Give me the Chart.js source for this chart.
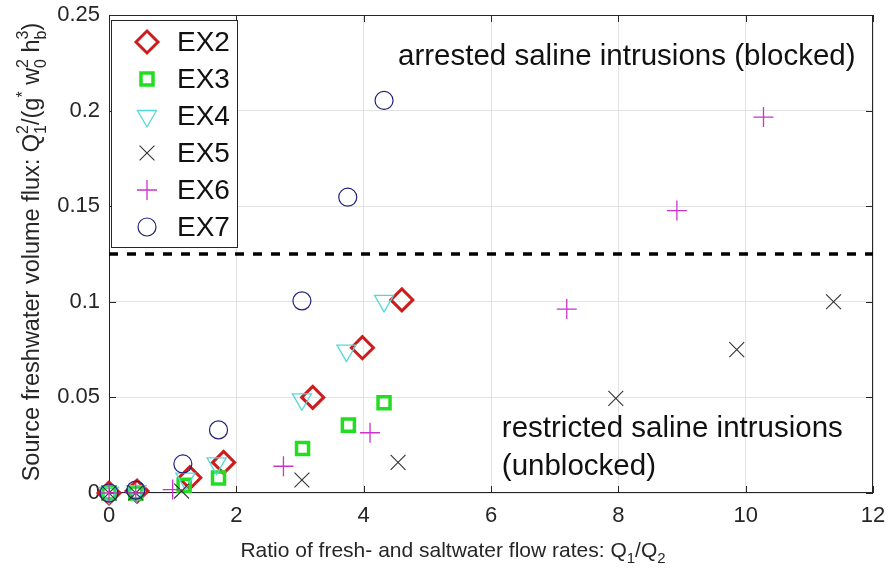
<!DOCTYPE html>
<html>
<head>
<meta charset="utf-8">
<script src="https://cdn.jsdelivr.net/npm/chart.js@4/dist/chart.umd.min.js"></script>
<style>
  html, body { margin: 0; padding: 0; background: #fff; }
  #wrap { width: 890px; height: 572px; }
</style>
</head>
<body>
<div id="wrap"><canvas id="chart" width="890" height="572"></canvas></div>
<script>
// values (x = Q1/Q2, y = Q1^2/(g* w0^2 hb^3))
const seriesNames = ["EX2", "EX3", "EX4", "EX5", "EX6", "EX7"];

const ex2X = [0, 0.44, 1.27, 1.80, 3.20, 3.98, 4.60];
const ex2Y = [0, 0.001, 0.008, 0.016, 0.050, 0.076, 0.101];

const ex3X = [0, 0.42, 1.18, 1.72, 3.04, 3.76, 4.32];
const ex3Y = [0, 0, 0.004, 0.0078, 0.0233, 0.0355, 0.0472];

const ex4X = [0, 0.43, 1.20, 1.69, 3.03, 3.73, 4.32];
const ex4Y = [0, 0.001, 0.0075, 0.0155, 0.049, 0.0745, 0.1005];

const ex5X = [0, 0.42, 1.14, 3.03, 4.54, 7.96, 9.86, 11.38];
const ex5Y = [0, 0, 0.001, 0.0068, 0.016, 0.0495, 0.075, 0.100];

const ex6X = [0, 0.42, 1.00, 2.74, 4.10, 7.19, 8.92, 10.28];
const ex6Y = [0, 0, 0.0018, 0.014, 0.0315, 0.0962, 0.1477, 0.1966];

const ex7X = [0, 0.42, 1.16, 1.72, 3.03, 3.75, 4.32];
const ex7Y = [0, 0.0015, 0.0152, 0.033, 0.1005, 0.1547, 0.2053];

const thresholdY = 0.125;
const thresholdX = [0, 12];

const xTicks = [0, 2, 4, 6, 8, 10, 12];
const yTicks = [0, 0.05, 0.1, 0.15, 0.2, 0.25];

const upperNote = "arrested saline intrusions (blocked)";
const lowerNote = ["restricted saline intrusions", "(unblocked)"];

const FONT = "'Liberation Sans', Arial, Helvetica, sans-serif";
const INK = "#262626";

function pts(xs, ys) {
    return xs.map((x, i) => ({ x: x, y: ys[i] }));
}

const markers = [
    { style: "rectRot",  radius: 11,   rot: 0,   color: "#cc1c1c", width: 3 },
    { style: "rect",     radius: 8.5,  rot: 0,   color: "#22dd22", width: 3.5 },
    { style: "triangle", radius: 11,   rot: 180, color: "#55d8d8", width: 1.3 },
    { style: "crossRot", radius: 10.5, rot: 0,   color: "#333333", width: 1.1 },
    { style: "cross",    radius: 10,   rot: 0,   color: "#cc33cc", width: 1.3 },
    { style: "circle",   radius: 9,    rot: 0,   color: "#22227a", width: 1.2 }
];

const seriesData = [
    pts(ex2X, ex2Y), pts(ex3X, ex3Y), pts(ex4X, ex4Y),
    pts(ex5X, ex5Y), pts(ex6X, ex6Y), pts(ex7X, ex7Y)
];

const datasets = seriesNames.map((name, i) => ({
    type: "scatter",
    label: name,
    data: seriesData[i],
    pointStyle: markers[i].style,
    pointRadius: markers[i].radius,
    pointHoverRadius: markers[i].radius,
    pointRotation: markers[i].rot,
    pointBorderColor: markers[i].color,
    pointBackgroundColor: "rgba(0,0,0,0)",
    pointBorderWidth: markers[i].width,
    showLine: false,
    clip: false,
    order: 10 - i
}));

datasets.push({
    type: "line",
    label: "threshold",
    data: thresholdX.map(x => ({ x: x, y: thresholdY })),
    borderColor: "#000",
    borderWidth: 3.5,
    borderDash: [9, 9],
    pointRadius: 0,
    fill: false,
    order: 20
});

// text with sub/superscripts, laid out along the current baseline
function richWidth(ctx, parts, size) {
    let w = 0;
    parts.forEach(p => {
        if (p.t) {
            ctx.font = size + "px " + FONT;
            w += ctx.measureText(p.t).width;
        } else {
            ctx.font = Math.round(size * 0.7) + "px " + FONT;
            w += Math.max(ctx.measureText(p.sub || "").width, ctx.measureText(p.sup || "").width);
        }
    });
    return w;
}

function drawRich(ctx, parts, size, x, y) {
    let cx = x;
    parts.forEach(p => {
        if (p.t) {
            ctx.font = size + "px " + FONT;
            ctx.fillText(p.t, cx, y);
            cx += ctx.measureText(p.t).width;
        } else {
            ctx.font = Math.round(size * 0.7) + "px " + FONT;
            let w = 0;
            if (p.sub) {
                ctx.fillText(p.sub, cx, y + size * 0.3);
                w = ctx.measureText(p.sub).width;
            }
            if (p.sup) {
                ctx.fillText(p.sup, cx, y - size * 0.45);
                w = Math.max(w, ctx.measureText(p.sup).width);
            }
            cx += w;
        }
    });
}

const xTitle = [{ t: "Ratio of fresh- and saltwater flow rates: Q" }, { sub: "1" }, { t: "/Q" }, { sub: "2" }];
const yTitle = [
    { t: "Source freshwater volume flux: Q" }, { sub: "1", sup: "2" },
    { t: "/(g" }, { sup: "*" }, { t: " w" }, { sub: "0", sup: "2" },
    { t: " h" }, { sub: "b", sup: "3" }, { t: ")" }
];

const decorPlugin = {
    id: "decor",
    beforeDatasetsDraw(chart) {
        const ctx = chart.ctx;
        const a = chart.chartArea;
        const xs = chart.scales.x, ys = chart.scales.y;
        ctx.save();
        ctx.strokeStyle = INK;
        ctx.lineWidth = 1;
        ctx.strokeRect(a.left + 0.5, a.top + 0.5, a.right - a.left - 1, a.bottom - a.top - 1);
        ctx.beginPath();
        xTicks.forEach(v => {
            const px = Math.round(xs.getPixelForValue(v)) + 0.5;
            ctx.moveTo(px, a.bottom); ctx.lineTo(px, a.bottom - 7);
            ctx.moveTo(px, a.top); ctx.lineTo(px, a.top + 7);
        });
        yTicks.forEach(v => {
            const py = Math.round(ys.getPixelForValue(v)) + 0.5;
            ctx.moveTo(a.left, py); ctx.lineTo(a.left + 7, py);
            ctx.moveTo(a.right, py); ctx.lineTo(a.right - 7, py);
        });
        ctx.stroke();
        ctx.restore();
    },
    afterDraw(chart) {
        const ctx = chart.ctx;
        const xs = chart.scales.x, ys = chart.scales.y;
        ctx.save();
        ctx.fillStyle = "#111";
        ctx.textAlign = "left";
        ctx.textBaseline = "alphabetic";

        // region notes
        ctx.font = "29.5px " + FONT;
        ctx.fillText(upperNote, xs.getPixelForValue(4.54), ys.getPixelForValue(0.224));
        ctx.fillText(lowerNote[0], xs.getPixelForValue(6.17), ys.getPixelForValue(0.0292));
        ctx.fillText(lowerNote[1], xs.getPixelForValue(6.17), ys.getPixelForValue(0.0093));

        // axis titles
        ctx.fillStyle = INK;
        const xw = richWidth(ctx, xTitle, 21);
        drawRich(ctx, xTitle, 21, 453 - xw / 2, 557);

        ctx.save();
        ctx.translate(39, 252);
        ctx.rotate(-Math.PI / 2);
        const yw = richWidth(ctx, yTitle, 23.5);
        drawRich(ctx, yTitle, 23.5, -yw / 2, 0);
        ctx.restore();

        // legend box
        const lx = 111, ly = 20, lw = 126, lh = 227;
        ctx.fillStyle = "#fff";
        ctx.fillRect(lx, ly, lw, lh);
        ctx.strokeStyle = INK;
        ctx.lineWidth = 1;
        ctx.strokeRect(lx + 0.5, ly + 0.5, lw, lh);
        ctx.font = "28px " + FONT;
        ctx.textBaseline = "middle";
        ctx.fillStyle = "#111";
        seriesNames.forEach((name, i) => {
            const cy = 42 + i * 37;
            const m = markers[i];
            ctx.strokeStyle = m.color;
            ctx.fillStyle = "rgba(0,0,0,0)";
            ctx.lineWidth = m.width;
            Chart.helpers.drawPoint(ctx, { pointStyle: m.style, radius: m.radius, rotation: m.rot, borderWidth: m.width }, 147, cy);
            ctx.fillStyle = "#111";
            ctx.fillText(name, 177, cy + 1);
        });
        ctx.restore();
    }
};

function setupChart() {
    const ctx = document.getElementById("chart").getContext("2d");
    new Chart(ctx, {
        data: { datasets: datasets },
        options: {
            responsive: false,
            animation: false,
            events: [],
            layout: { padding: { top: 15, right: 17, left: 0, bottom: 0 } },
            plugins: {
                legend: { display: false },
                tooltip: { enabled: false }
            },
            scales: {
                x: {
                    type: "linear",
                    min: 0,
                    max: 12,
                    afterFit: s => { s.height = 79; s.paddingLeft = 0; s.paddingRight = 0; },
                    afterBuildTicks: s => { s.ticks = xTicks.map(v => ({ value: v })); },
                    ticks: {
                        color: INK,
                        font: { family: FONT, size: 22 },
                        padding: 10,
                        maxRotation: 0
                    },
                    grid: { color: "#e3e3e3", lineWidth: 1, drawTicks: false },
                    border: { display: false }
                },
                y: {
                    type: "linear",
                    min: 0,
                    max: 0.25,
                    afterFit: s => { s.width = 109; s.paddingTop = 0; s.paddingBottom = 0; },
                    afterBuildTicks: s => { s.ticks = yTicks.map(v => ({ value: v })); },
                    ticks: {
                        color: INK,
                        font: { family: FONT, size: 22 },
                        padding: 9,
                        callback: v => String(Number(v.toFixed(2)))
                    },
                    grid: { color: "#e3e3e3", lineWidth: 1, drawTicks: false },
                    border: { display: false }
                }
            }
        },
        plugins: [decorPlugin]
    });
}

setupChart();
</script>
</body>
</html>
